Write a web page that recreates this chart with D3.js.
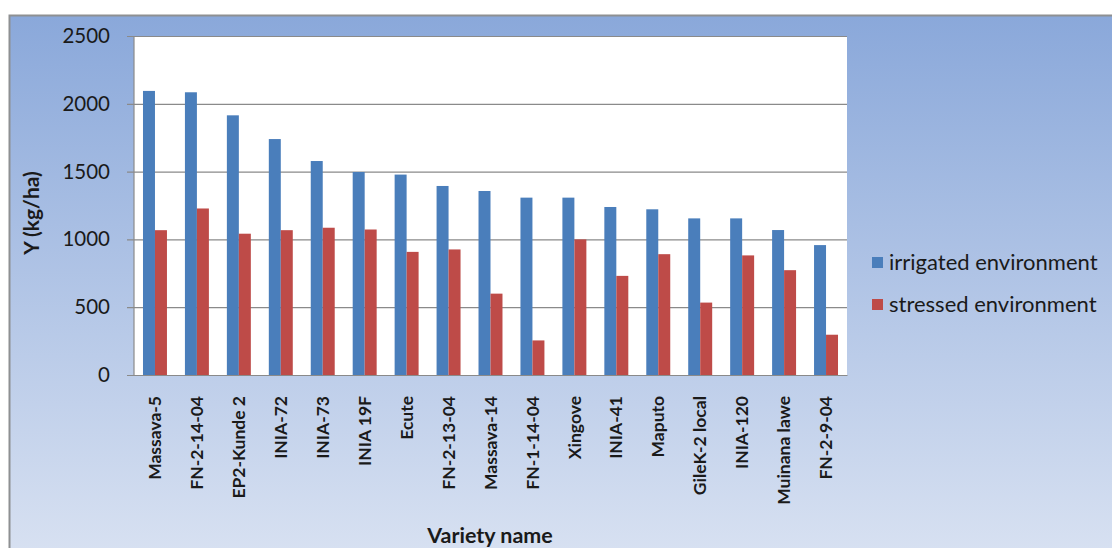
<!DOCTYPE html>
<html>
<head>
<meta charset="utf-8">
<script src="https://cdn.jsdelivr.net/npm/d3@7"></script>
<style>
html,body{margin:0;padding:0;background:#fff;}
svg{display:block;}
text{font-family:Lato,"Open Sans",sans-serif;fill:#1a1a1a;}
</style>
</head>
<body>
<svg id="chart" width="1112" height="548"></svg>
<script>
const categories = ["Massava-5","FN-2-14-04","EP2-Kunde 2","INIA-72","INIA-73","INIA 19F","Ecute","FN-2-13-04","Massava-14","FN-1-14-04","Xingove","INIA-41","Maputo","GileK-2 local","INIA-120","Muinana lawe","FN-2-9-04"];
const seriesNames = ["irrigated environment","stressed environment"];
const irrigated = [2095,2085,1915,1740,1578,1497,1478,1394,1357,1308,1308,1239,1222,1155,1155,1069,958];
const stressed  = [1068,1228,1042,1068,1086,1073,908,926,600,255,1000,731,891,534,882,773,297];
const yTicks = [0,500,1000,1500,2000,2500];
const seriesColors = ["#4A7EBB","#BE4B48"];

const svg = d3.select("#chart");
const W = 1112, H = 548;

// background gradient
const defs = svg.append("defs");
const grad = defs.append("linearGradient").attr("id","bg").attr("x1",0).attr("y1",0).attr("x2",0).attr("y2",1);
grad.append("stop").attr("offset","0%").attr("stop-color","#8AA8DA");
grad.append("stop").attr("offset","100%").attr("stop-color","#D9E2F2");

svg.append("rect").attr("x",9.5).attr("y",15.5).attr("width",W).attr("height",H)
  .attr("fill","url(#bg)").attr("stroke","#8E9092").attr("stroke-width",2);

const plot = {left:134, right:847, top:36, bottom:375};

const x0 = d3.scaleBand().domain(categories).range([plot.left, plot.right]).paddingInner(0).paddingOuter(0);
const x1 = d3.scaleBand().domain(seriesNames).range([0, x0.bandwidth()]).paddingInner(0).paddingOuter(0.75);
const y = d3.scaleLinear().domain([0,2500]).range([plot.bottom, plot.top]);

svg.append("rect").attr("x",plot.left).attr("y",plot.top)
  .attr("width",plot.right-plot.left).attr("height",plot.bottom-plot.top).attr("fill","#fff");

// y axis with gridlines
const yAxis = d3.axisLeft(y).tickValues(yTicks).tickSize(-(plot.right-plot.left)).tickPadding(24).tickFormat(d3.format("d"));
const gy = svg.append("g").attr("transform",`translate(${plot.left},0)`).call(yAxis);
gy.select(".domain").remove();
gy.selectAll(".tick line").attr("stroke","#8A8A8A").attr("stroke-width",1.2).attr("x1",-7);
gy.selectAll(".tick text").attr("font-size",20.5).attr("font-family","Lato, sans-serif").attr("fill","#1a1a1a");

// left axis line
svg.append("line").attr("x1",plot.left).attr("x2",plot.left).attr("y1",plot.top).attr("y2",plot.bottom)
  .attr("stroke","#8A8A8A").attr("stroke-width",1.2);

// bars
const data = categories.map((c,i)=>({cat:c, vals:[irrigated[i], stressed[i]]}));
const groups = svg.append("g").selectAll("g").data(data).join("g")
  .attr("transform",d=>`translate(${x0(d.cat)},0)`);
groups.selectAll("rect").data(d=>d.vals.map((v,k)=>({name:seriesNames[k],v,k}))).join("rect")
  .attr("x",d=>x1(d.name)).attr("width",x1.bandwidth())
  .attr("y",d=>y(d.v)).attr("height",d=>y(0)-y(d.v))
  .attr("fill",d=>seriesColors[d.k]);

// x axis
const xAxis = d3.axisBottom(x0).tickSize(0).tickPadding(0);
const gx = svg.append("g").attr("transform",`translate(0,${plot.bottom})`).call(xAxis);
gx.select(".domain").attr("stroke","#8A8A8A").attr("stroke-width",1.2);
gx.selectAll(".tick text")
  .attr("font-size",17.5).attr("font-weight","bold").attr("fill","#1a1a1a")
  .attr("text-anchor","end").attr("dy","0.35em")
  .attr("transform","translate(0,21) rotate(-90)")
  .attr("x",0).attr("y",0);

// axis titles
svg.append("text").attr("x",490).attr("y",543).attr("text-anchor","middle")
  .attr("font-size",21.5).attr("font-weight","bold").text("Variety name");
svg.append("text").attr("transform","translate(39,213) rotate(-90)").attr("text-anchor","middle")
  .attr("font-size",21).attr("font-weight","bold").text("Y (kg/ha)");

// legend
const leg = svg.append("g").attr("transform","translate(872,257)");
seriesNames.forEach((n,i)=>{
  const g = leg.append("g").attr("transform",`translate(0,${i*42})`);
  g.append("rect").attr("width",11).attr("height",11).attr("fill",seriesColors[i]);
  g.append("text").attr("x",17).attr("y",13).attr("font-size",22).text(n);
});
</script>
</body>
</html>
